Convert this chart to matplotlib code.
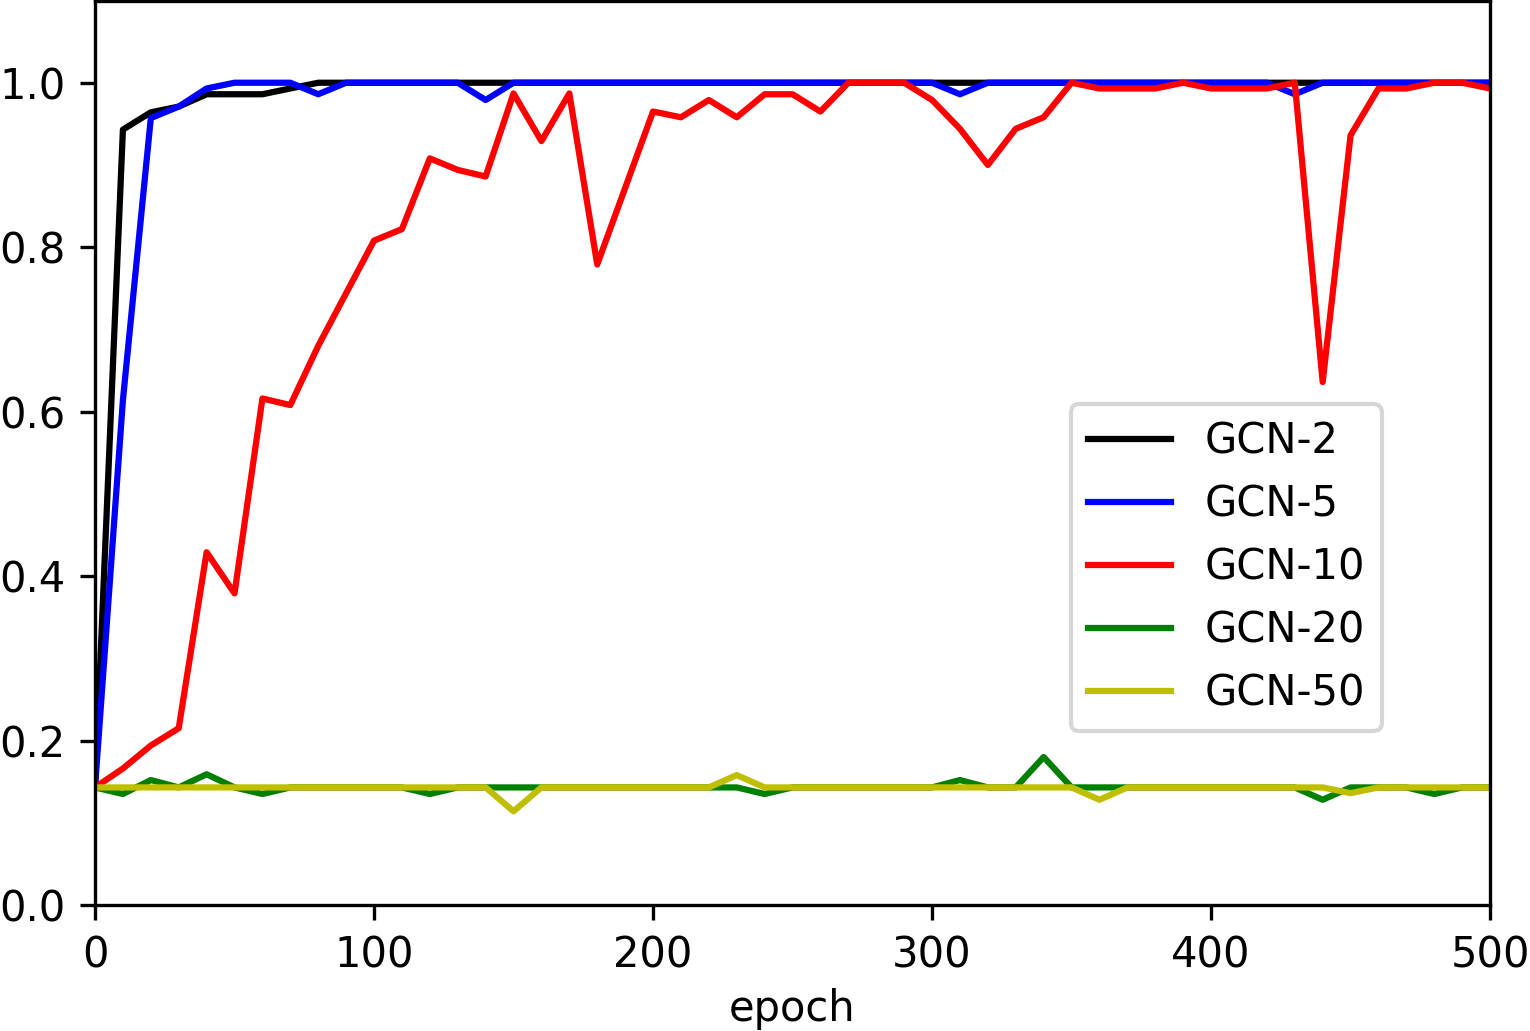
import matplotlib
matplotlib.use("Agg")
import matplotlib.pyplot as plt

epochs = list(range(0, 501, 10))

gcn2 = [0.143, 0.943, 0.964, 0.971, 0.986, 0.986, 0.986, 0.993, 1.0, 1.0,
        1.0, 1.0, 1.0, 1.0, 1.0, 1.0, 1.0, 1.0, 1.0, 1.0,
        1.0, 1.0, 1.0, 1.0, 1.0, 1.0, 1.0, 1.0, 1.0, 1.0,
        1.0, 1.0, 1.0, 1.0, 1.0, 1.0, 1.0, 1.0, 1.0, 1.0,
        1.0, 1.0, 1.0, 1.0, 1.0, 1.0, 1.0, 1.0, 1.0, 1.0,
        1.0]
gcn5 = [0.143, 0.614, 0.957, 0.971, 0.993, 1.0, 1.0, 1.0, 0.986, 1.0,
        1.0, 1.0, 1.0, 1.0, 0.979, 1.0, 1.0, 1.0, 1.0, 1.0,
        1.0, 1.0, 1.0, 1.0, 1.0, 1.0, 1.0, 1.0, 1.0, 1.0,
        1.0, 0.986, 1.0, 1.0, 1.0, 1.0, 1.0, 1.0, 1.0, 1.0,
        1.0, 1.0, 1.0, 0.986, 1.0, 1.0, 1.0, 1.0, 1.0, 1.0,
        1.0]
gcn10 = [0.143, 0.166, 0.194, 0.215, 0.429, 0.379, 0.616, 0.608, 0.680, 0.744,
         0.808, 0.822, 0.908, 0.894, 0.886, 0.987, 0.929, 0.987, 0.779, 0.872,
         0.965, 0.958, 0.979, 0.958, 0.986, 0.986, 0.965, 1.0, 1.0, 1.0,
         0.979, 0.944, 0.900, 0.944, 0.958, 1.0, 0.993, 0.993, 0.993, 1.0,
         0.993, 0.993, 0.993, 1.0, 0.636, 0.936, 0.993, 0.993, 1.0, 1.0,
         0.993]
gcn20 = [0.143, 0.135, 0.152, 0.143, 0.159, 0.143, 0.135, 0.143, 0.143, 0.143,
         0.143, 0.143, 0.135, 0.143, 0.143, 0.143, 0.143, 0.143, 0.143, 0.143,
         0.143, 0.143, 0.143, 0.143, 0.135, 0.143, 0.143, 0.143, 0.143, 0.143,
         0.143, 0.152, 0.143, 0.143, 0.180, 0.143, 0.143, 0.143, 0.143, 0.143,
         0.143, 0.143, 0.143, 0.143, 0.128, 0.143, 0.143, 0.143, 0.135, 0.143,
         0.143]
gcn50 = [0.143, 0.143, 0.143, 0.143, 0.143, 0.143, 0.143, 0.143, 0.143, 0.143,
         0.143, 0.143, 0.143, 0.143, 0.143, 0.114, 0.143, 0.143, 0.143, 0.143,
         0.143, 0.143, 0.143, 0.158, 0.143, 0.143, 0.143, 0.143, 0.143, 0.143,
         0.143, 0.143, 0.143, 0.143, 0.143, 0.143, 0.128, 0.143, 0.143, 0.143,
         0.143, 0.143, 0.143, 0.143, 0.143, 0.136, 0.143, 0.143, 0.143, 0.143,
         0.143]

labels = ['GCN-2', 'GCN-5', 'GCN-10', 'GCN-20', 'GCN-50']
colors = ['k', 'b', 'r', 'g', 'y']

fig = plt.figure(figsize=(5.1, 3.4367), dpi=300)
ax = fig.add_subplot(111)
fig.subplots_adjust(left=0.0621, right=0.9739, bottom=0.1222, top=0.9995)

for ys, lab, c in zip([gcn2, gcn5, gcn10, gcn20, gcn50], labels, colors):
    ax.plot(epochs, ys, color=c, label=lab)

ax.set_xlim(0, 500)
ax.set_ylim(0, 1.1)
ax.set_yticks([0.0, 0.2, 0.4, 0.6, 0.8, 1.0])
ax.set_xlabel('epoch', labelpad=2.8)
ax.legend(loc='center', bbox_to_anchor=(0.811, 0.373))

fig.savefig('out.png', dpi=300)
